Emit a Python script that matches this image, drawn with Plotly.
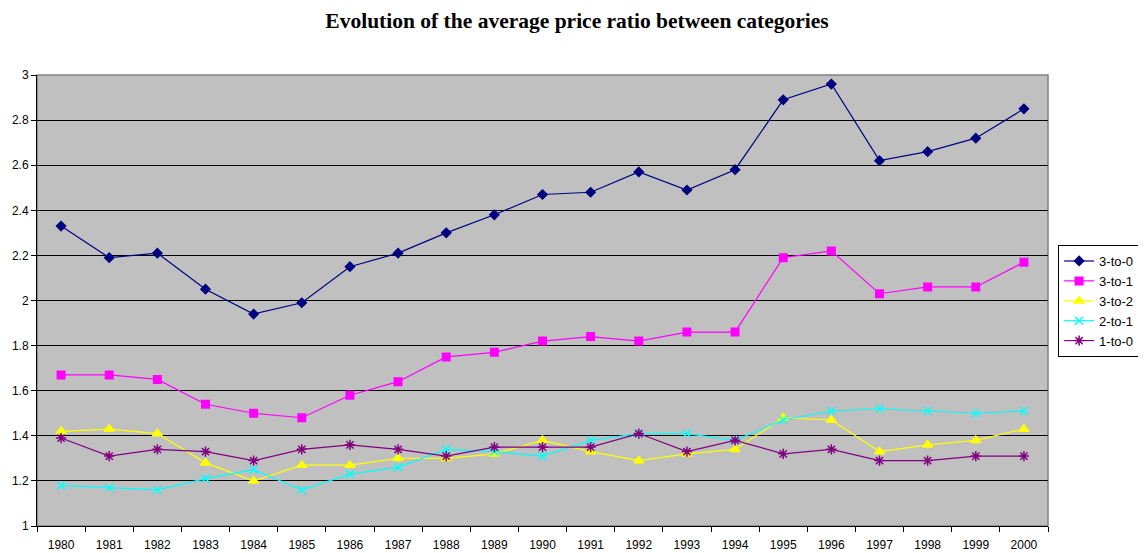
import plotly.graph_objects as go

years = [str(y) for y in range(1980, 2001)]

r3_0 = [2.33, 2.19, 2.21, 2.05, 1.94, 1.99, 2.15, 2.21, 2.30, 2.38, 2.47, 2.48, 2.57, 2.49, 2.58, 2.89, 2.96, 2.62, 2.66, 2.72, 2.85]
r3_1 = [1.67, 1.67, 1.65, 1.54, 1.50, 1.48, 1.58, 1.64, 1.75, 1.77, 1.82, 1.84, 1.82, 1.86, 1.86, 2.19, 2.22, 2.03, 2.06, 2.06, 2.17]
r3_2 = [1.42, 1.43, 1.41, 1.28, 1.20, 1.27, 1.27, 1.30, 1.30, 1.32, 1.38, 1.33, 1.29, 1.32, 1.34, 1.48, 1.47, 1.33, 1.36, 1.38, 1.43]
r2_1 = [1.18, 1.17, 1.16, 1.21, 1.25, 1.16, 1.23, 1.26, 1.34, 1.33, 1.31, 1.38, 1.41, 1.41, 1.38, 1.47, 1.51, 1.52, 1.51, 1.50, 1.51]
r1_0 = [1.39, 1.31, 1.34, 1.33, 1.29, 1.34, 1.36, 1.34, 1.31, 1.35, 1.35, 1.35, 1.41, 1.33, 1.38, 1.32, 1.34, 1.29, 1.29, 1.31, 1.31]

series = [
    ("3-to-0", r3_0, "#000080", "diamond", 7),
    ("3-to-1", r3_1, "#FF00FF", "square", 7.5),
    ("3-to-2", r3_2, "#FFFF00", "triangle-up", 8.5),
    ("2-to-1", r2_1, "#00FFFF", "x-thin-open", 8),
    ("1-to-0", r1_0, "#800080", "asterisk-open", 8.5),
]

fig = go.Figure()
for name, vals, color, sym, size in series:
    fig.add_trace(go.Scatter(
        x=years, y=vals, name=name, mode="lines+markers",
        line=dict(color=color, width=1.2),
        marker=dict(symbol=sym, size=size, color=color,
                    line=dict(color=color, width=1.5)),
    ))

# page body has an 8px margin, so the figure is sized/positioned to compensate
fig.update_layout(
    width=1138, height=545,
    margin=dict(l=29, r=98, t=67, b=27, autoexpand=False),
    paper_bgcolor="white",
    plot_bgcolor="#C0C0C0",
    title=dict(text="<b>Evolution of the average price ratio between categories</b>",
               x=0.5, xanchor="center", y=0.977, yanchor="middle",
               font=dict(family="Liberation Serif, serif", size=21.5, color="black")),
    font=dict(family="Liberation Sans, Arial, sans-serif", size=12, color="black"),
    legend=dict(x=1.01, y=0.623, xanchor="left", yanchor="top",
                bgcolor="white", bordercolor="black", borderwidth=1,
                font=dict(size=13), tracegroupgap=0, itemwidth=30),
    showlegend=True,
)

fig.update_xaxes(
    type="category", range=[-0.5, 20.5], automargin=False,
    tickson="boundaries", ticks="outside", ticklen=5, tickcolor="black",
    ticklabelstandoff=8,
    showline=True, linecolor="black", linewidth=1,
    showgrid=False, tickfont=dict(size=12),
)
fig.update_yaxes(
    range=[1, 3], dtick=0.2, tick0=1, automargin=False,
    ticks="outside", ticklen=5, tickcolor="black",
    showline=True, linecolor="black", linewidth=1,
    showgrid=True, gridcolor="black", gridwidth=1,
    zeroline=False, tickfont=dict(size=12),
)

fig.add_shape(type="rect", xref="paper", yref="paper", x0=0, y0=0, x1=1, y1=1,
              line=dict(color="#808080", width=1.5), layer="below")

fig.write_html("out.html")
